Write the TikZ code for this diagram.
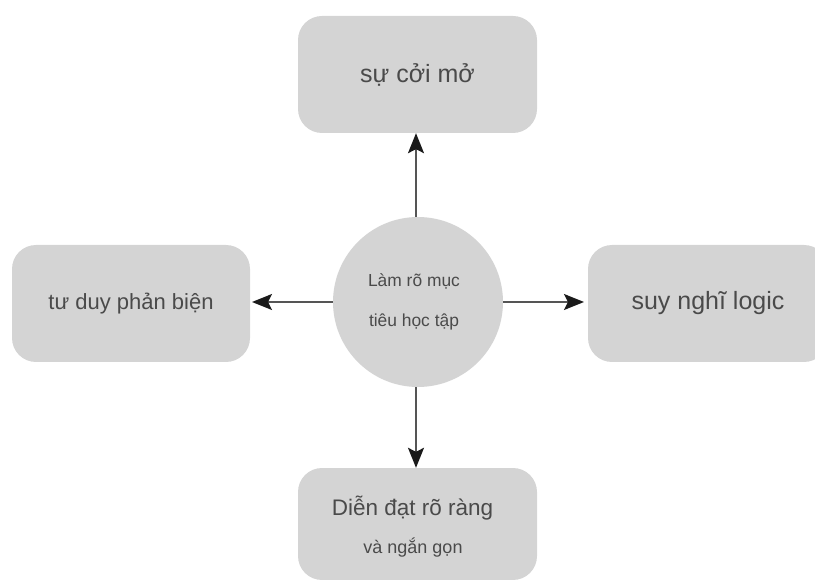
\documentclass[tikz,border=0pt]{standalone}
\usepackage{fontspec}
\setmainfont{Liberation Sans}
\usetikzlibrary{arrows.meta}
\definecolor{boxfill}{HTML}{D4D4D4}
\definecolor{txt}{HTML}{4A4A4A}
\definecolor{arr}{HTML}{555555}
\definecolor{tip}{HTML}{1A1A1A}
\begin{document}
\begin{tikzpicture}[x=1pt,y=-1pt,
  rbox/.style={fill=boxfill, draw=none, rounded corners=24pt, text=txt},
  hub/.style={circle, fill=boxfill, draw=none, minimum size=170pt, inner sep=0pt, text=txt, align=center},
  link/.style={draw=arr, line width=1.6pt, -{Stealth[length=20pt,width=16pt,inset=4pt,color=tip]}}]
\useasboundingbox (0,0) rectangle (815,580);
\node[rbox, minimum width=239pt, minimum height=117pt] (top) at (417.5,74.5) {\fontsize{25}{30}\selectfont sự cởi mở};
\node[rbox, minimum width=238pt, minimum height=117pt] (left) at (131,303.5) {\fontsize{22}{26}\selectfont tư duy phản biện};
\node[rbox, minimum width=240pt, minimum height=117pt] (right) at (708,303.5) {\fontsize{25}{30}\selectfont suy nghĩ logic};
\node[rbox, minimum width=239pt, minimum height=112pt] (bottom) at (417.5,524) {};
\node[text=txt] (b1) at (412.5,508) {\fontsize{22.5}{27}\selectfont Diễn đạt rõ ràng};
\node[text=txt] (b2) at (413,548) {\fontsize{18}{22}\selectfont và ngắn gọn};
\node[hub] (hub) at (418,302) {};
\node[text=txt] (h1) at (414,281) {\fontsize{17.4}{21}\selectfont Làm rõ mục};
\node[text=txt] (h2) at (414,322) {\fontsize{17.4}{21}\selectfont tiêu học tập};
\draw[link] (hub.north -| 416,0) -- (top.south -| 416,0);
\draw[link] (hub.west) -- (hub.west -| 252,0);
\draw[link] (hub.east) -- (hub.east -| 584,0);
\draw[link] (hub.south -| 416,0) -- (bottom.north -| 416,0);
\end{tikzpicture}
\end{document}
